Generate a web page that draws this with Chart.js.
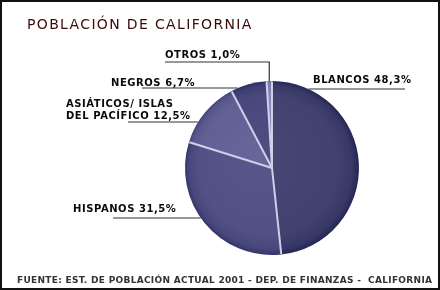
<!DOCTYPE html>
<html>
<head>
<meta charset="utf-8">
<script src="https://cdn.jsdelivr.net/npm/chart.js@4.4.1/dist/chart.umd.min.js"></script>
<style>
  html, body { margin: 0; padding: 0; background: #fff; }
  #wrap { position: relative; width: 440px; height: 290px; }
</style>
</head>
<body>
<div id="wrap"><canvas id="myChart" width="440" height="290"></canvas></div>
<script>
// data
const categories = ["BLANCOS", "HISPANOS", "ASIATICOS/ ISLAS DEL PACÍFICO", "NEGROS", "OTROS"];
const percentages = [48.3, 31.5, 12.5, 6.7, 1.0];
const labelText = [
  ["BLANCOS 48,3%"],
  ["HISPANOS 31,5%"],
  ["ASIÁTICOS/ ISLAS", "DEL PACÍFICO 12,5%"],
  ["NEGROS 6,7%"],
  ["OTROS 1,0%"],
];
const titleText = "POBLACIÓN DE CALIFORNIA";
const sourceText = "FUENTE: EST. DE POBLACIÓN ACTUAL 2001 - DEP. DE FINANZAS -  CALIFORNIA";

const sliceColors = ["#424271", "#515186", "#606094", "#48487c", "#8888b8"];

// where each label sits (text baseline, underline)
const labelPos = [
  { x: 313, y: 83, lineY: 89, end: 405, side: "right" },
  { x: 73, y: 212, lineY: 218, end: 113, side: "left" },
  { x: 66, y: 107, lineY: 122, end: 128, side: "left" },
  { x: 111, y: 86, lineY: 88, end: 142, side: "left" },
  { x: 165, y: 58, lineY: 62, end: 165, side: "top" },
];

function shade(hex, amt) {
  let n = parseInt(hex.slice(1), 16);
  let r = (n >> 16) & 255, g = (n >> 8) & 255, b = n & 255;
  const f = (c) => Math.max(0, Math.min(255, Math.round(c + amt)));
  return `rgb(${f(r)},${f(g)},${f(b)})`;
}

const decorations = {
  id: "decorations",
  afterDatasetsDraw(chart) {
    const ctx = chart.ctx;
    const arcs = chart.getDatasetMeta(0).data;
    const cx = arcs[0].x, cy = arcs[0].y, r = arcs[0].outerRadius;

    // slice separators
    ctx.save();
    ctx.strokeStyle = "#cfcfe8";
    ctx.lineWidth = 2;
    arcs.forEach((a) => {
      ctx.beginPath();
      ctx.moveTo(cx, cy);
      ctx.lineTo(cx + (r - 0.5) * Math.cos(a.startAngle), cy + (r - 0.5) * Math.sin(a.startAngle));
      ctx.stroke();
    });
    ctx.restore();

    // labels + leader lines
    ctx.save();
    ctx.fillStyle = "#0a0a0a";
    ctx.font = "bold 10px 'DejaVu Sans'";
    ctx.letterSpacing = "0.55px";
    ctx.textBaseline = "alphabetic";
    labelText.forEach((lines, i) => {
      const p = labelPos[i];
      lines.forEach((t, k) => {
        ctx.fillText(t, p.x, p.y + k * 12);
      });
      ctx.strokeStyle = "#333";
      ctx.lineWidth = 1.2;
      ctx.beginPath();
      if (p.side === "top") {
        const a = arcs[i];
        const mid = (a.startAngle + a.endAngle) / 2;
        const vx = cx + r * Math.cos(mid);
        const vy = cy + r * Math.sin(mid);
        ctx.moveTo(p.end, p.lineY);
        ctx.lineTo(vx, p.lineY);
        ctx.lineTo(vx, vy);
      } else {
        const dy = p.lineY - cy;
        const dx = Math.sqrt(Math.max(0, r * r - dy * dy));
        const ex = p.side === "right" ? cx + dx : cx - dx;
        ctx.moveTo(p.end, p.lineY);
        ctx.lineTo(ex, p.lineY);
      }
      ctx.stroke();
    });
    ctx.restore();

    // title, source and frame
    ctx.save();
    ctx.fillStyle = "#3a0b0b";
    ctx.font = "14px 'DejaVu Sans'";
    ctx.letterSpacing = "1.35px";
    ctx.fillText(titleText, 27, 29);
    ctx.fillStyle = "#333";
    ctx.font = "bold 9px 'DejaVu Sans'";
    ctx.letterSpacing = "0.3px";
    ctx.fillText(sourceText, 17, 283);
    ctx.strokeStyle = "#111";
    ctx.lineWidth = 2;
    ctx.strokeRect(1, 1, 438, 288);
    ctx.restore();
  },
};

new Chart(document.getElementById("myChart"), {
  type: "pie",
  data: {
    labels: categories,
    datasets: [{
      data: percentages,
      borderWidth: 0,
      backgroundColor: (c) => {
        const chart = c.chart;
        const area = chart.chartArea;
        const base = sliceColors[c.dataIndex];
        if (!area) return base;
        const cx = (area.left + area.right) / 2;
        const cy = (area.top + area.bottom) / 2;
        const r = Math.min(area.right - area.left, area.bottom - area.top) / 2;
        const g = chart.ctx.createRadialGradient(cx - r * 0.25, cy - r * 0.2, 0, cx, cy, r);
        g.addColorStop(0, shade(base, 6));
        g.addColorStop(0.8, base);
        g.addColorStop(0.94, shade(base, -10));
        g.addColorStop(1, shade(base, -28));
        return g;
      },
    }],
  },
  options: {
    responsive: false,
    animation: false,
    layout: { padding: { top: 81, bottom: 35, left: 185, right: 81 } },
    plugins: {
      legend: { display: false },
      tooltip: { enabled: false },
      title: { display: false },
    },
  },
  plugins: [decorations],
});
</script>
</body>
</html>
